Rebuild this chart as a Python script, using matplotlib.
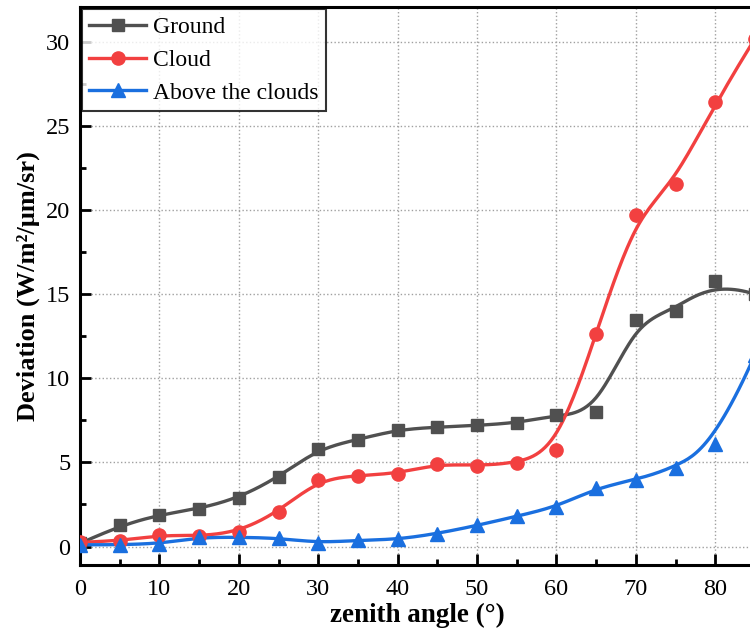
import numpy as np
import matplotlib
matplotlib.use('Agg')
import matplotlib.pyplot as plt
from matplotlib.ticker import MultipleLocator

plt.rcParams['font.family'] = ['Liberation Serif', 'DejaVu Serif']

# data
angle = [0, 5, 10, 15, 20, 25, 30, 35, 40, 45, 50, 55, 60, 65, 70, 75, 80, 85]
ground = [0.18, 1.25, 1.9, 2.24, 2.89, 4.12, 5.82, 6.36, 6.95, 7.1, 7.2, 7.35, 7.8, 7.98, 13.45, 14.02, 15.77, 15.0]
cloud = [0.25, 0.32, 0.71, 0.61, 0.87, 2.06, 3.98, 4.22, 4.34, 4.91, 4.81, 4.95, 5.76, 12.64, 19.73, 21.55, 26.42, 30.2]
above = [0.1, 0.1, 0.15, 0.55, 0.55, 0.5, 0.22, 0.37, 0.42, 0.77, 1.25, 1.8, 2.36, 3.47, 3.98, 4.68, 6.1, 11.4]


def bspline(xs, ys, k=3, num=400):
    # clamped B-spline with the data as control points (Origin style "B-Spline" line)
    P = np.column_stack([xs, ys]).astype(float)
    n = len(P)
    inner = np.arange(1, n - k)
    knots = np.concatenate([np.zeros(k + 1), inner, np.full(k + 1, n - k)]).astype(float)
    ts = np.linspace(0, n - k, num)
    out = []
    for t in ts:
        i = np.searchsorted(knots, t, side='right') - 1
        i = min(i, n - 1)
        d = [P[j + i - k].copy() for j in range(k + 1)]
        for r in range(1, k + 1):
            for j in range(k, r - 1, -1):
                a = (t - knots[j + i - k]) / (knots[j + 1 + i - r] - knots[j + i - k])
                d[j] = (1 - a) * d[j - 1] + a * d[j]
        out.append(d[k])
    out = np.array(out)
    return out[:, 0], out[:, 1]


fig = plt.figure(figsize=(7.5, 6.33), dpi=100)
ax = fig.add_axes([80 / 750, 1 - 565 / 633, 675 / 750, 558 / 633])

series = [
    ('Ground', ground, '#505050', 's', 8.5),
    ('Cloud', cloud, '#f24040', 'o', 9.5),
    ('Above the clouds', above, '#1a6fdf', '^', 9.5),
]
for name, vals, col, mk, ms in series:
    sx, sy = bspline(angle, vals)
    ax.plot(sx, sy, color=col, lw=2.4, zorder=3)
    ax.plot(angle, vals, linestyle='none', marker=mk, ms=ms, color=col, zorder=4)
    ax.plot([], [], color=col, lw=2.4, marker=mk, ms=ms, label=name)

ax.set_xlim(0, 85)
ax.set_ylim(-1.1, 32.08)
ax.xaxis.set_major_locator(MultipleLocator(10))
ax.xaxis.set_minor_locator(MultipleLocator(5))
ax.yaxis.set_major_locator(MultipleLocator(5))
ax.yaxis.set_minor_locator(MultipleLocator(2.5))
ax.tick_params(which='both', direction='in', width=2, labelsize=17.5)
ax.tick_params(which='major', length=8)
ax.tick_params(axis='x', which='major', pad=10)
ax.tick_params(axis='y', which='major', pad=7)
ax.tick_params(which='minor', length=4)
ax.grid(True, which='major', linestyle=':', color='#a0a0a0', lw=1)

for s in ['left', 'bottom', 'top']:
    ax.spines[s].set_linewidth(2.2)
ax.spines['right'].set_visible(False)

ax.set_xlabel('zenith angle (°)', fontsize=19.5, fontweight='bold', labelpad=2)
ax.set_ylabel('Deviation (W/m²/μm/sr)', fontsize=19, fontweight='bold', labelpad=4)

leg = ax.legend(loc='upper left', fontsize=17, frameon=True, fancybox=False,
                edgecolor='black', handlelength=2.4, borderaxespad=0.1,
                labelspacing=0.48, handletextpad=0.3, borderpad=0.3)
leg.get_frame().set_linewidth(1.5)

fig.savefig('out.png', dpi=100)
